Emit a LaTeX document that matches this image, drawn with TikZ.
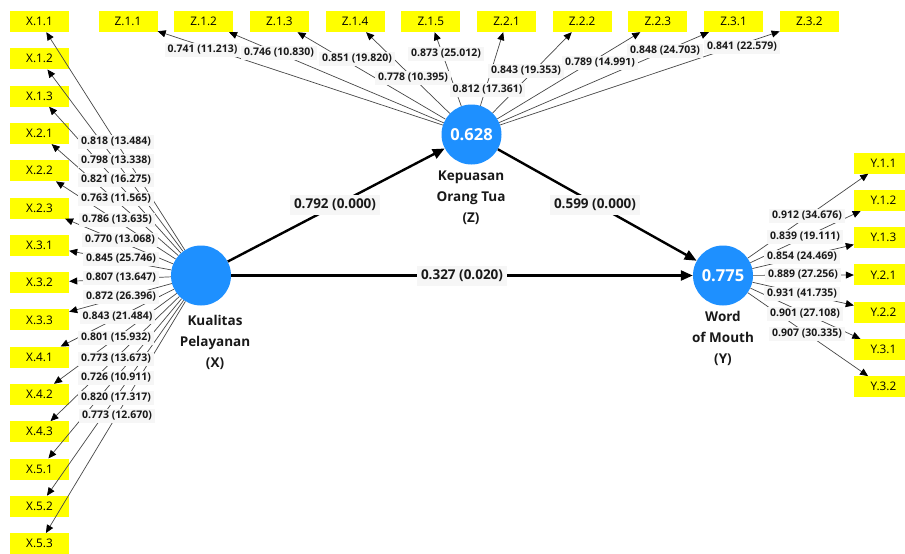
\documentclass[tikz,border=0pt]{standalone}
\usepackage{fontspec}
\setmainfont{Open Sans}
\usetikzlibrary{arrows.meta}
\definecolor{lvblue}{RGB}{30,144,255}
\definecolor{lblbg}{RGB}{246,246,246}
\definecolor{indyellow}{RGB}{255,255,0}
\begin{document}
\begin{tikzpicture}[x=1pt,y=-1pt,
  ind/.style={fill=indyellow, minimum width=59pt, minimum height=21pt, inner sep=0pt, font=\fontsize{11.8}{12}\selectfont},
  lv/.style={circle, fill=lvblue, minimum size=60pt, inner sep=0pt, text=white, font=\fontsize{16.5}{18}\selectfont\bfseries},
  lvname/.style={align=center, font=\fontsize{13.5}{21}\selectfont\bfseries, text=black!90},
  load/.style={draw=black!72, line width=0.7pt, -{Triangle[length=8pt,width=7pt,color=black]}},
  struct/.style={draw=black, line width=2.4pt, -{Triangle[length=12pt,width=10pt]}},
  lw/.style={fill=lblbg, inner xsep=3pt, inner ysep=2pt, font=\fontsize{10.5}{12}\selectfont\bfseries, text=black!90},
  pw/.style={fill=lblbg, inner xsep=4pt, inner ysep=4pt, font=\fontsize{13.5}{15}\selectfont\bfseries, text=black!90}
]
\clip (0,0) rectangle (905,554);
\fill[white] (0,0) rectangle (905,554);

% latent variables
\node[lv] (X) at (201,275.5) {};
\node[lv] (Z) at (471.5,134.5) {0.628};
\node[lv] (Y) at (723,275.5) {0.775};

% indicators X
\foreach \lab/\nm [count=\i from 0] in {X.1.1/x11,X.1.2/x12,X.1.3/x13,X.2.1/x21,X.2.2/x22,X.2.3/x23,X.3.1/x31,X.3.2/x32,X.3.3/x33,X.4.1/x41,X.4.2/x42,X.4.3/x43,X.5.1/x51,X.5.2/x52,X.5.3/x53}
  \node[ind] (\nm) at (39.5,21.5+37.3*\i) {\lab};
% indicators Z
\foreach \lab/\nm [count=\i from 0] in {Z.1.1/z11,Z.1.2/z12,Z.1.3/z13,Z.1.4/z14,Z.1.5/z15,Z.2.1/z21,Z.2.2/z22,Z.2.3/z23,Z.3.1/z31,Z.3.2/z32}
  \node[ind] (\nm) at (128+75.7*\i,21.5) {\lab};
% indicators Y
\foreach \lab/\nm [count=\i from 0] in {Y.1.1/y11,Y.1.2/y12,Y.1.3/y13,Y.2.1/y21,Y.2.2/y22,Y.3.1/y31,Y.3.2/y32}
  \node[ind] (\nm) at (883.5,163+37.3*\i) {\lab};

% loading connectors
\foreach \nm in {x11,x12,x13,x21,x22,x23,x31,x32,x33,x41,x42,x43,x51,x52,x53}
  \draw[load] (X) -- (\nm);
\foreach \nm in {z11,z12,z13,z14,z15,z21,z22,z23,z31,z32}
  \draw[load] (Z) -- (\nm);
\foreach \nm in {y11,y12,y13,y21,y22,y31,y32}
  \draw[load] (Y) -- (\nm);

% structural paths
\draw[struct] (X) -- (Z);
\draw[struct] (X) -- (Y);
\draw[struct] (Z) -- (Y);

% loading labels X
\node[lw] (lx11) at (116,142) {0.818 (13.484)};
\node[lw] (lx12) at (116,161) {0.798 (13.338)};
\node[lw] (lx13) at (116,180) {0.821 (16.275)};
\node[lw] (lx21) at (116,199) {0.763 (11.565)};
\node[lw] (lx22) at (117,220) {0.786 (13.635)};
\node[lw] (lx23) at (120,240) {0.770 (13.068)};
\node[lw] (lx31) at (121,259) {0.845 (25.746)};
\node[lw] (lx32) at (121,278) {0.807 (13.647)};
\node[lw] (lx33) at (121,297) {0.872 (26.396)};
\node[lw] (lx41) at (117.5,317) {0.843 (21.484)};
\node[lw] (lx42) at (116,338) {0.801 (15.932)};
\node[lw] (lx43) at (116,359) {0.773 (13.673)};
\node[lw] (lx51) at (116,378) {0.726 (10.911)};
\node[lw] (lx52) at (116,398) {0.820 (17.317)};
\node[lw] (lx53) at (117,416) {0.773 (12.670)};

% loading labels Z
\node[lw] (lz11) at (202.5,50) {0.741 (11.213)};
\node[lw] (lz12) at (279,53) {0.746 (10.830)};
\node[lw] (lz13) at (357,59) {0.851 (19.820)};
\node[lw] (lz14) at (413,78) {0.778 (10.395)};
\node[lw] (lz15) at (446,54) {0.873 (25.012)};
\node[lw] (lz21) at (487.5,90) {0.812 (17.361)};
\node[lw] (lz22) at (526,71) {0.843 (19.353)};
\node[lw] (lz23) at (600,63) {0.789 (14.991)};
\node[lw] (lz31) at (665,51) {0.848 (24.703)};
\node[lw] (lz32) at (742,47) {0.841 (22.579)};

% loading labels Y
\node[lw] (ly11) at (807,216) {0.912 (34.676)};
\node[lw] (ly12) at (805,237) {0.839 (19.111)};
\node[lw] (ly13) at (802,257) {0.854 (24.469)};
\node[lw] (ly21) at (803,275) {0.889 (27.256)};
\node[lw] (ly22) at (802,294) {0.931 (41.735)};
\node[lw] (ly31) at (805,314) {0.901 (27.108)};
\node[lw] (ly32) at (807,334) {0.907 (30.335)};

% path labels
\node[pw] (pxz) at (335,205) {0.792 (0.000)};
\node[pw] (pzy) at (595,205) {0.599 (0.000)};
\node[pw] (pxy) at (462,276) {0.327 (0.020)};

% latent names
\node[lvname] (nX) at (215,342.5) {Kualitas\\Pelayanan\\(X)};
\node[lvname] (nZ) at (471,198) {Kepuasan\\Orang Tua\\(Z)};
\node[lvname] (nY) at (723,338) {Word\\of Mouth\\(Y)};
\end{tikzpicture}
\end{document}
